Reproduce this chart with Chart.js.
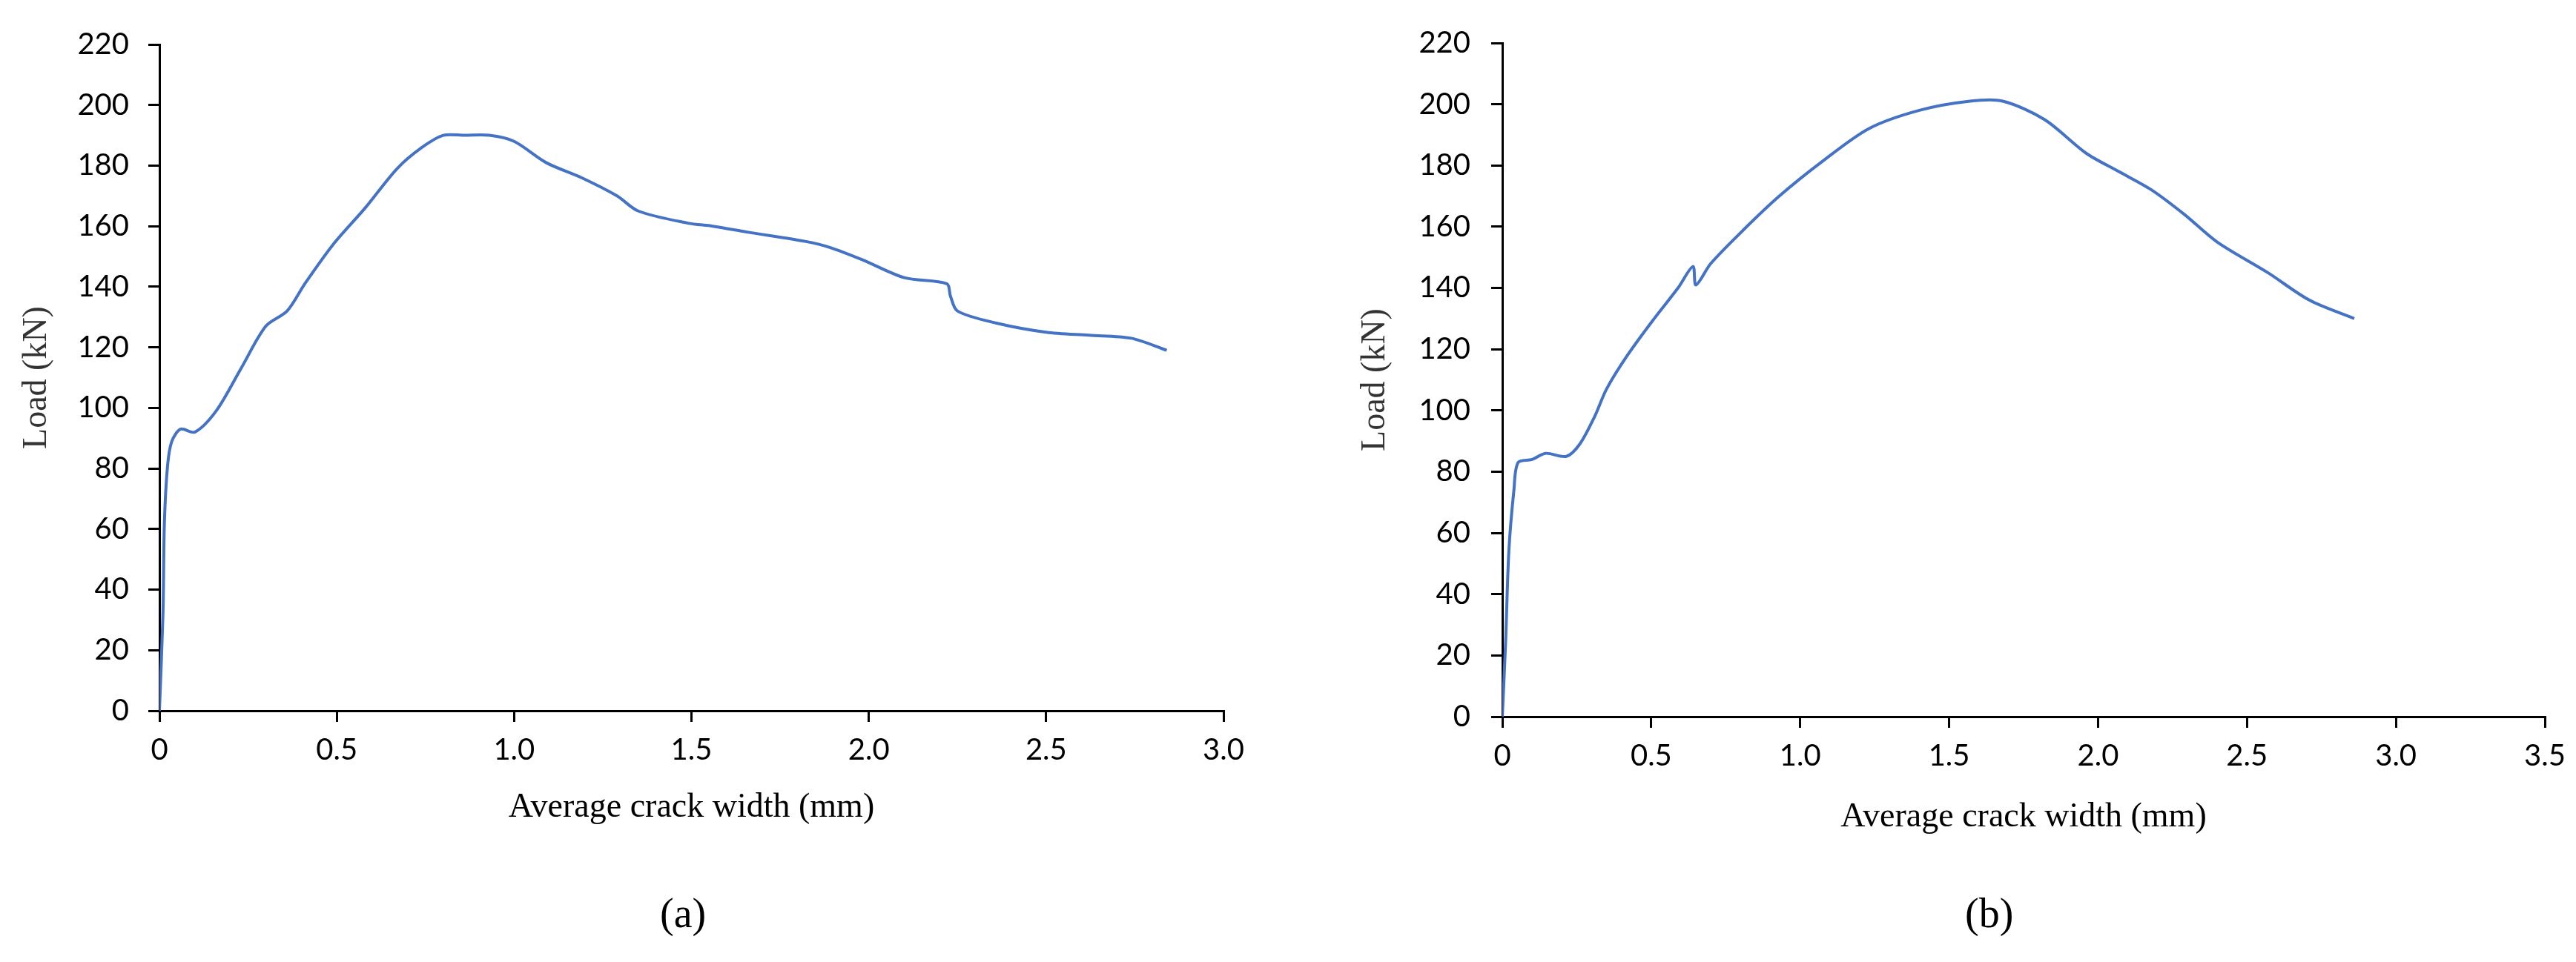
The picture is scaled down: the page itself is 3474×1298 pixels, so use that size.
<!DOCTYPE html>
<html>
<head>
<meta charset="utf-8">
<script src="https://cdn.jsdelivr.net/npm/chart.js@4/dist/chart.umd.min.js"></script>
<style>
  body { margin: 0; background: #fff; width: 3474px; height: 1298px; position: relative; overflow: hidden; }
  .panel { position: absolute; top: 0; width: 1737px; height: 1298px; }
  .cap { position: absolute; top: 1200px; font: 56px "Liberation Serif", serif; color: #000; }
</style>
</head>
<body>
<div class="panel" style="left:0"><canvas id="chartA"></canvas></div>
<div class="panel" style="left:1737px"><canvas id="chartB"></canvas></div>
<div class="cap" style="left:890px">(a)</div>
<div class="cap" style="left:2650px">(b)</div>
<script>
// panel (a): average crack width (mm) vs load (kN)
const crackA = [0, 0.01, 0.014, 0.023, 0.035, 0.06, 0.1, 0.16, 0.23, 0.3, 0.36, 0.41, 0.49, 0.58, 0.67, 0.74, 0.80, 0.86, 0.93, 1.0, 1.09, 1.19, 1.29, 1.35, 1.49, 1.56, 1.66, 1.82, 1.89, 1.98, 2.10, 2.22, 2.23, 2.25, 2.36, 2.50, 2.62, 2.74, 2.84];
const loadA = [0, 32, 62, 81, 89, 93, 92, 99, 113, 127, 132, 141, 154, 166, 179, 186, 190, 190, 190, 188, 181, 176, 170, 165, 161, 160, 158, 155, 153, 149, 143, 141, 137, 132, 128, 125, 124, 123, 119];

// panel (b)
const crackB = [0, 0.011, 0.022, 0.039, 0.053, 0.10, 0.145, 0.215, 0.26, 0.31, 0.35, 0.42, 0.51, 0.59, 0.64, 0.65, 0.70, 0.81, 0.93, 1.07, 1.23, 1.40, 1.57, 1.68, 1.82, 1.96, 2.07, 2.18, 2.29, 2.40, 2.57, 2.71, 2.86];
const loadB = [0, 24, 54, 74, 83, 84, 86, 85, 89, 98, 107, 118, 130, 140, 147, 141, 148, 159, 170, 181, 192, 198, 201, 201, 195, 184, 178, 172, 164, 155, 145, 136, 130];

const xTitle = "Average crack width (mm)";
const yTitle = "Load (kN)";

const tickFont = { family: "Lato", size: 40 };
const titleFont = { family: "Liberation Serif", size: 46 };

const initPanel = function(id, xs, ys, xMax, cfg) {
  const context = document.getElementById(id).getContext("2d");
  return new Chart(context, {
    type: "scatter",
    data: {
      datasets: [{
        data: xs.map((x, i) => ({ x: x, y: ys[i] })),
        showLine: true,
        borderColor: "#4472C4",
        borderWidth: 4,
        pointRadius: 0,
        tension: 0.3
      }]
    },
    options: {
      responsive: false,
      animation: false,
      layout: { padding: { top: cfg.top, right: cfg.right, bottom: cfg.bottom, left: 0 } },
      plugins: { legend: { display: false }, tooltip: { enabled: false } },
      scales: {
        x: {
          min: 0, max: xMax,
          ticks: { stepSize: 0.5, color: "#000", font: tickFont, padding: 14, maxRotation: 0 },
          grid: { drawOnChartArea: false, tickLength: 15, color: "#000", lineWidth: 3 },
          border: { color: "#000", width: 3 },
          title: { display: true, text: xTitle, color: "#000", font: titleFont, padding: { top: 20 } },
          afterFit: function(axis) { axis.height = cfg.xh; }
        },
        y: {
          min: 0, max: 220,
          ticks: { stepSize: 20, color: "#000", font: tickFont, padding: cfg.ytp },
          grid: { drawOnChartArea: false, tickLength: 15, color: "#000", lineWidth: 3 },
          border: { color: "#000", width: 3 },
          title: { display: true, text: yTitle, color: "#333", font: titleFont, padding: { top: cfg.ytitle } },
          afterFit: function(axis) { axis.width = cfg.yw; }
        }
      }
    }
  });
};

for (const id of ["chartA", "chartB"]) {
  const c = document.getElementById(id);
  c.width = 1737; c.height = 1298;
}

initPanel("chartA", crackA, loadA, 3, { top: 60, right: 87, bottom: 176, xh: 163, yw: 215, ytp: 26, ytitle: 22 });
initPanel("chartB", crackB, loadB, 3.5, { top: 58, right: 42, bottom: 163, xh: 168, yw: 289, ytp: 28, ytitle: 90 });
</script>
</body>
</html>
